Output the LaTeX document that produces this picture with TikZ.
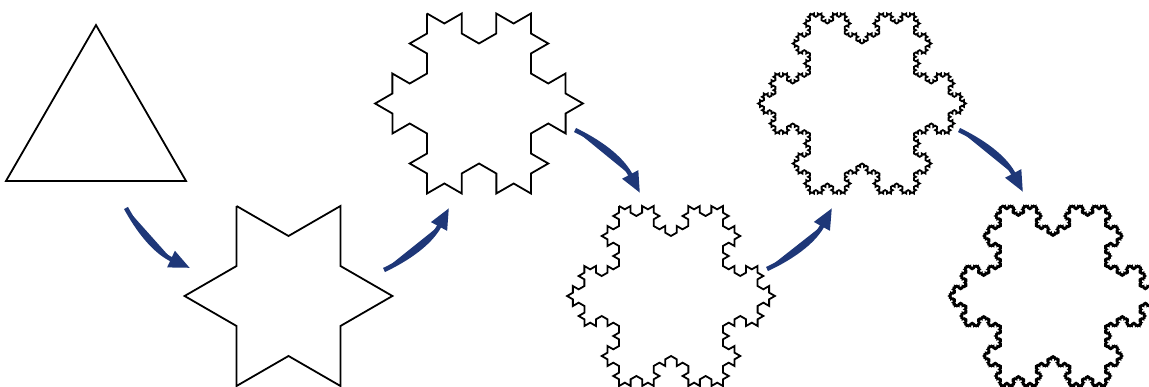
\documentclass[tikz,border=0pt]{standalone}
\usepackage{xcolor}
\usetikzlibrary{arrows.meta,decorations.fractals}

\definecolor{arrblue}{RGB}{30,55,120}

\begin{document}
\begin{tikzpicture}[
    x=1pt,y=1pt,
    koch/.style={draw=black,line width=1.8pt,line join=miter,decoration=Koch snowflake},
    arr/.style={-{Triangle[length=21pt,width=17pt]},line width=4.5pt,draw=arrblue,fill=arrblue}
]
\useasboundingbox (0,0) rectangle (1149,-387);

% centres of the six stages
\coordinate (k0) at (96,-129);
\coordinate (k1) at (288.5,-296);
\coordinate (k2) at (479,-103.5);
\coordinate (k3) at (671,-296);
\coordinate (k4) at (862,-103.5);
\coordinate (k5) at (1053,-296);

\def\rad{103.92}

% stage 0: the triangle
\begin{scope}[shift={(k0)}]
  \draw[koch] (90:\rad) -- (330:\rad) -- (210:\rad) -- cycle;
\end{scope}

% stage 1
\begin{scope}[shift={(k1)}]
  \path[koch] decorate{(120:\rad) -- (0:\rad) -- (240:\rad) -- (120:\rad)};
\end{scope}

% stage 2
\begin{scope}[shift={(k2)}]
  \path[koch] decorate{decorate{(120:\rad) -- (0:\rad) -- (240:\rad) -- (120:\rad)}};
\end{scope}

% stage 3
\begin{scope}[shift={(k3)}]
  \path[koch] decorate{decorate{decorate{(120:\rad) -- (0:\rad) -- (240:\rad) -- (120:\rad)}}};
\end{scope}

% stage 4
\begin{scope}[shift={(k4)}]
  \path[koch] decorate{decorate{decorate{decorate{(120:\rad) -- (0:\rad) -- (240:\rad) -- (120:\rad)}}}};
\end{scope}

% stage 5
\begin{scope}[shift={(k5)}]
  \path[koch] decorate{decorate{decorate{decorate{decorate{(120:\rad) -- (0:\rad) -- (240:\rad) -- (120:\rad)}}}}};
\end{scope}

% arrow ends
\coordinate (a1s) at (126,-208);  \coordinate (a1e) at (190,-268);
\coordinate (a2s) at (384,-270);  \coordinate (a2e) at (449,-208);
\coordinate (a3s) at (575,-130);  \coordinate (a3e) at (640,-193);
\coordinate (a4s) at (767,-269);  \coordinate (a4e) at (832,-208);
\coordinate (a5s) at (959,-130);  \coordinate (a5e) at (1023,-192);

\draw[arr] (a1s) to[bend right=18] (a1e);
\draw[arr] (a2s) to[bend right=18] (a2e);
\draw[arr] (a3s) to[bend left=18] (a3e);
\draw[arr] (a4s) to[bend right=18] (a4e);
\draw[arr] (a5s) to[bend left=18] (a5e);
\end{tikzpicture}
\end{document}
